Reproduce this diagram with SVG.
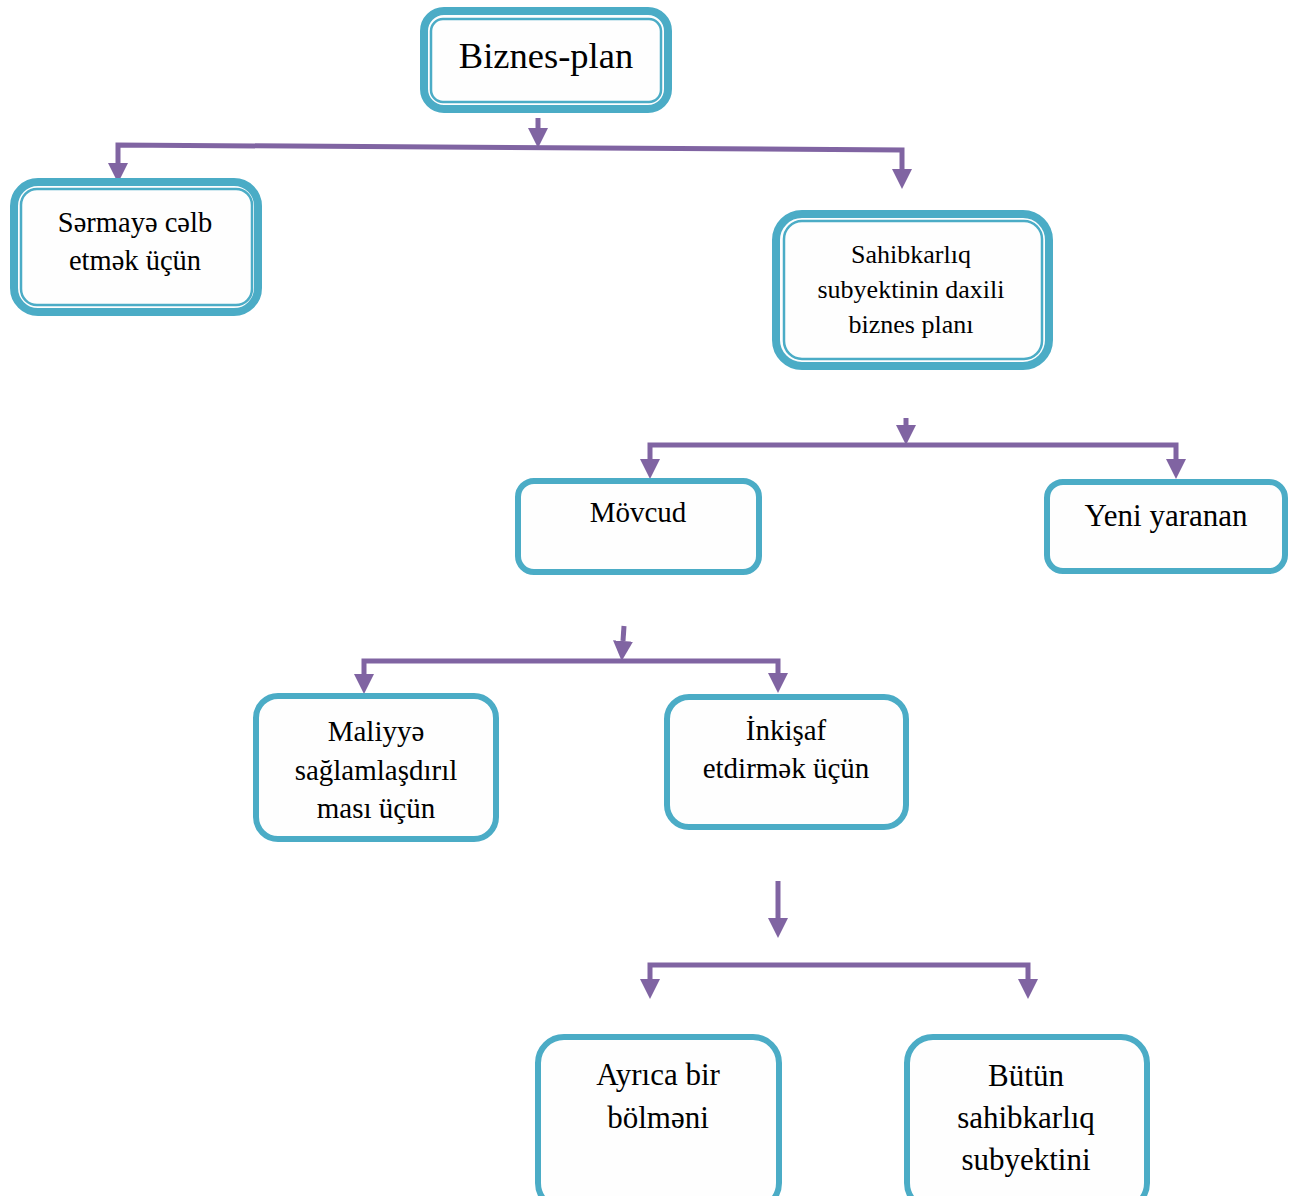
<svg xmlns="http://www.w3.org/2000/svg" width="1300" height="1196" viewBox="0 0 1300 1196">
  <style>
    .box { fill: #fefefe; stroke: #4bacc6; stroke-width: 6; }
    .outer { fill: #fefefe; stroke: #4bacc6; stroke-width: 8; }
    .inner { fill: none; stroke: #4bacc6; stroke-width: 2.5; }
    .link { fill: none; stroke: #8064a2; stroke-width: 5; stroke-linejoin: miter; }
    text { font-family: "Liberation Serif", "Times New Roman", serif; fill: #000; text-anchor: middle; }
  </style>
  <defs>
    <marker id="head" markerUnits="userSpaceOnUse" markerWidth="20" markerHeight="20" viewBox="0 0 20 20" refX="0" refY="10" orient="auto-start-reverse">
      <path d="M0,0 L20,10 L0,20 z" fill="#8064a2"/>
    </marker>
  </defs>

  <g id="connectors">
    <!-- level 1 -->
    <path class="link" d="M538,118 L538,128" marker-end="url(#head)"/>
    <path class="link" d="M118,163 L118,145 L902,150 L902,169" marker-start="url(#head)" marker-end="url(#head)"/>
    <!-- level 2 -->
    <path class="link" d="M906,418 L906,425" marker-end="url(#head)"/>
    <path class="link" d="M650,459 L650,445 L1176,445 L1176,459" marker-start="url(#head)" marker-end="url(#head)"/>
    <!-- level 3 -->
    <path class="link" d="M624,626 L623,641" marker-end="url(#head)"/>
    <path class="link" d="M364,674 L364,661 L778,661 L778,673" marker-start="url(#head)" marker-end="url(#head)"/>
    <!-- level 4 -->
    <path class="link" d="M778,881 L778,918" stroke-width="7" marker-end="url(#head)"/>
    <path class="link" d="M650,979 L650,965 L1028,965 L1028,979" marker-start="url(#head)" marker-end="url(#head)"/>
  </g>

  <g id="biznes-plan">
    <rect class="outer" x="424" y="11" width="244" height="98" rx="20"/>
    <rect class="inner" x="431" y="19" width="230" height="83" rx="12"/>
    <text x="546" y="68" font-size="36.5">Biznes-plan</text>
  </g>

  <g id="sermaye">
    <rect class="outer" x="14" y="182" width="244" height="130" rx="24"/>
    <rect class="inner" x="21" y="189" width="231" height="116" rx="16"/>
    <text x="135" y="232" font-size="28.5">Sərmayə cəlb</text>
    <text x="135" y="270" font-size="28.5">etmək üçün</text>
  </g>

  <g id="daxili">
    <rect class="outer" x="776" y="214" width="273" height="152" rx="26"/>
    <rect class="inner" x="784" y="221" width="258" height="138" rx="18"/>
    <text x="911" y="263" font-size="26">Sahibkarlıq</text>
    <text x="911" y="298" font-size="26">subyektinin daxili</text>
    <text x="911" y="333" font-size="26">biznes planı</text>
  </g>

  <g id="movcud">
    <rect class="box" x="518" y="481" width="241" height="91" rx="16"/>
    <text x="638" y="522" font-size="29">Mövcud</text>
  </g>

  <g id="yeni">
    <rect class="box" x="1047" y="482" width="238" height="89" rx="16"/>
    <text x="1166" y="526" font-size="31">Yeni yaranan</text>
  </g>

  <g id="maliyye">
    <rect class="box" x="256" y="696" width="240" height="143" rx="22"/>
    <text x="376" y="741" font-size="29">Maliyyə</text>
    <text x="376" y="780" font-size="29">sağlamlaşdırıl</text>
    <text x="376" y="818" font-size="29">ması üçün</text>
  </g>

  <g id="inkisaf">
    <rect class="box" x="667" y="697" width="239" height="130" rx="22"/>
    <text x="786" y="740" font-size="29">İnkişaf</text>
    <text x="786" y="778" font-size="29">etdirmək üçün</text>
  </g>

  <g id="ayrica">
    <rect class="box" x="538" y="1037" width="241" height="172" rx="26"/>
    <text x="658" y="1085" font-size="31">Ayrıca bir</text>
    <text x="658" y="1128" font-size="31">bölməni</text>
  </g>

  <g id="butun">
    <rect class="box" x="907" y="1037" width="240" height="172" rx="26"/>
    <text x="1026" y="1086" font-size="31">Bütün</text>
    <text x="1026" y="1128" font-size="31">sahibkarlıq</text>
    <text x="1026" y="1170" font-size="31">subyektini</text>
  </g>
</svg>
